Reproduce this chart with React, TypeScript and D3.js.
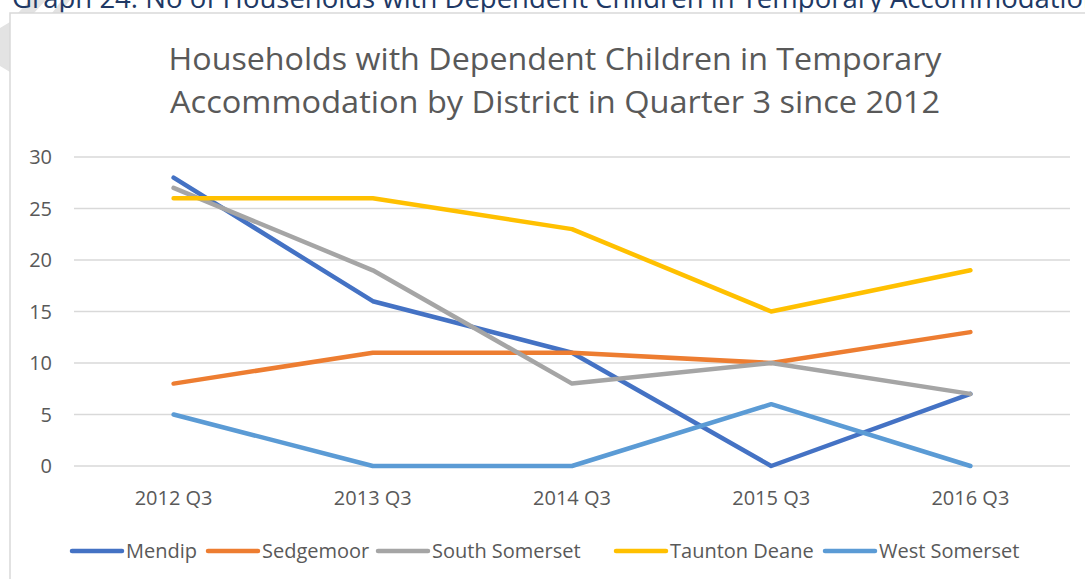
import { useEffect, useRef } from 'react';
import * as d3 from 'd3';

const quarters = ['2012 Q3', '2013 Q3', '2014 Q3', '2015 Q3', '2016 Q3'];
const yTicks = [0, 5, 10, 15, 20, 25, 30];

const mendip = [28, 16, 11, 0, 7];
const sedgemoor = [8, 11, 11, 10, 13];
const southSomerset = [27, 19, 8, 10, 7];
const tauntonDeane = [26, 26, 23, 15, 19];
const westSomerset = [5, 0, 0, 6, 0];

const seriesNames = ['Mendip', 'Sedgemoor', 'South Somerset', 'Taunton Deane', 'West Somerset'];
const seriesValues = [mendip, sedgemoor, southSomerset, tauntonDeane, westSomerset];
const seriesColors = ['#4472c4', '#ed7d31', '#a5a5a5', '#ffc000', '#5b9bd5'];

const W = 1085;
const H = 579;
const FONT = '"Open Sans", "Noto Sans", sans-serif';

export default function App() {
  const svgRef = useRef<SVGSVGElement>(null);

  useEffect(() => {
    document.body.style.margin = '0';
    if (!svgRef.current) return;
    const svg = d3.select(svgRef.current);
    svg.selectAll('*').remove();

    // faint page watermark behind the chart
    const wm = svg.append('g').attr('fill', '#e3e3e3');
    wm.append('polygon').attr('points', '0,28 10,22 10,72 0,66');
    wm.append('polygon').attr('points', '18,13 30,0 46,0 34,13');
    wm.append('polygon').attr('points', '52,13 62,0 70,0 60,13');

    // caption above the chart frame (cut off in the page)
    svg.append('text')
      .attr('x', 12)
      .attr('y', 8)
      .attr('fill', '#203864')
      .attr('font-family', FONT)
      .attr('font-size', 27)
      .attr('textLength', 1088)
      .attr('lengthAdjust', 'spacingAndGlyphs')
      .text('Graph 24: No of Households with Dependent Children in Temporary Accommodation');

    // chart frame
    svg.append('rect')
      .attr('x', 10)
      .attr('y', 13)
      .attr('width', W + 20)
      .attr('height', H)
      .attr('fill', '#ffffff')
      .attr('stroke', '#d9d9d9')
      .attr('stroke-width', 1.5);

    // title
    const titleLines = [
      'Households with Dependent Children in Temporary',
      'Accommodation by District in Quarter 3 since 2012',
    ];
    const titleLens = [773, 770];
    titleLines.forEach((t, i) => {
      svg.append('text')
        .attr('x', 555)
        .attr('y', 70 + i * 43)
        .attr('text-anchor', 'middle')
        .attr('fill', '#595959')
        .attr('font-family', FONT)
        .attr('font-size', 31)
        .attr('textLength', titleLens[i])
        .attr('lengthAdjust', 'spacingAndGlyphs')
        .text(t);
    });

    const x = d3.scaleBand<string>().domain(quarters).range([74, 1070]);
    const y = d3.scaleLinear().domain([0, 30]).range([466, 157]);

    // gridlines + y labels
    yTicks.forEach(t => {
      svg.append('line')
        .attr('x1', 74)
        .attr('x2', 1070)
        .attr('y1', y(t))
        .attr('y2', y(t))
        .attr('stroke', '#d9d9d9')
        .attr('stroke-width', 1.3);
      svg.append('text')
        .attr('x', 52)
        .attr('y', y(t))
        .attr('dy', '0.35em')
        .attr('text-anchor', 'end')
        .attr('fill', '#595959')
        .attr('font-family', FONT)
        .attr('font-size', 20)
        .text(t);
    });

    // x labels
    quarters.forEach(q => {
      svg.append('text')
        .attr('x', x(q)! + x.bandwidth() / 2)
        .attr('y', 505)
        .attr('text-anchor', 'middle')
        .attr('fill', '#595959')
        .attr('font-family', FONT)
        .attr('font-size', 20)
        .text(q);
    });

    const line = d3.line<number>()
      .x((_, i) => x(quarters[i])! + x.bandwidth() / 2)
      .y(d => y(d));

    seriesValues.forEach((vals, i) => {
      svg.append('path')
        .datum(vals)
        .attr('d', line)
        .attr('fill', 'none')
        .attr('stroke', seriesColors[i])
        .attr('stroke-width', 4.5)
        .attr('stroke-linecap', 'round')
        .attr('stroke-linejoin', 'round');
    });

    // legend
    const legendX = [72, 208, 378, 616, 825];
    seriesNames.forEach((name, i) => {
      const lx = legendX[i];
      svg.append('line')
        .attr('x1', lx)
        .attr('x2', lx + 50)
        .attr('y1', 551)
        .attr('y2', 551)
        .attr('stroke', seriesColors[i])
        .attr('stroke-width', 4.5)
        .attr('stroke-linecap', 'round');
      svg.append('text')
        .attr('x', lx + 54)
        .attr('y', 551)
        .attr('dy', '0.35em')
        .attr('fill', '#595959')
        .attr('font-family', FONT)
        .attr('font-size', 20)
        .text(name);
    });
  }, []);

  return (
    <svg
      ref={svgRef}
      width={W}
      height={H}
      style={{ display: 'block', position: 'absolute', left: 0, top: 0, background: '#ffffff' }}
    />
  );
}
